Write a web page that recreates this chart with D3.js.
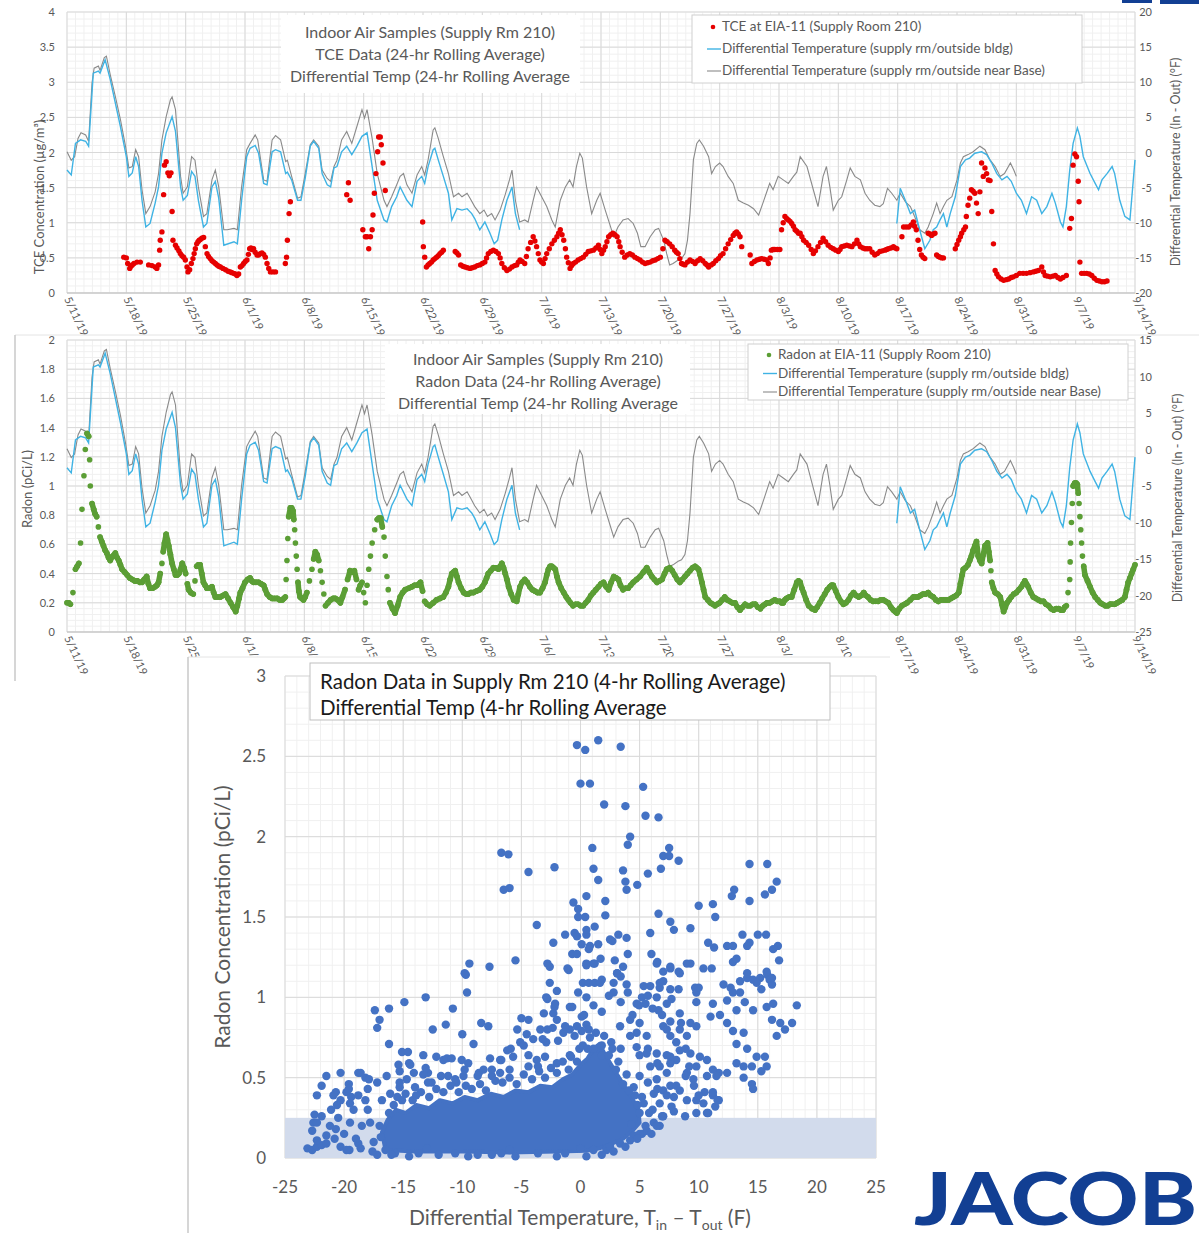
<!DOCTYPE html>
<html>
<head>
<meta charset="utf-8">
<script src="https://cdn.jsdelivr.net/npm/d3@7"></script>
<style>
  body { margin: 0; background: #fff; }
  svg text { font-family: Lato, "Open Sans", sans-serif; }
</style>
</head>
<body>
<svg id="chart" width="1199" height="1233"></svg>
<script>
// ---------- data ----------
// week labels, one every 7 days starting 5/11/19 (day 0)
var weekLabels = ["5/11/19","5/18/19","5/25/19","6/1/19","6/8/19","6/15/19","6/22/19","6/29/19","7/6/19",
  "7/13/19","7/20/19","7/27/19","8/3/19","8/10/19","8/17/19","8/24/19","8/31/19","9/7/19","9/14/19"];

var topLeftTicks = [0, 0.5, 1, 1.5, 2, 2.5, 3, 3.5, 4];
var topRightTicks = [-20, -15, -10, -5, 0, 5, 10, 15, 20];
var midLeftTicks = [0, 0.2, 0.4, 0.6, 0.8, 1, 1.2, 1.4, 1.6, 1.8, 2];
var midRightTicks = [-25, -20, -15, -10, -5, 0, 5, 10, 15];

// differential temperature, supply rm / outside near Base  [day, degF]
var tempBase = [[0,0.1],[0.5,-1.1],[0.9,-0.6],[1.3,2.0],[1.65,2.8],[2.2,2.5],[2.55,1.6],[2.95,9.9],[3.2,12.0],[3.7,12.3],
  [3.9,11.7],[4.4,13.5],[4.65,13.7],[5.1,11.1],[5.7,8.0],[6.3,4.7],[6.9,0.9],[7.3,-2.2],[7.7,-2.0],[8.1,0.4],[8.45,-0.6],
  [8.85,-5.3],[9.3,-8.7],[9.8,-7.7],[10.4,-5.6],[10.8,-3.0],[11.2,1.8],[11.7,5.1],[12.2,7.5],[12.4,7.9],[12.8,6.1],
  [13.4,-3.4],[13.7,-5.8],[14.2,-4.9],[14.7,-0.6],[15.1,-1.1],[15.5,-4.9],[16.1,-9.1],[16.5,-8.7],[17.1,-3.9],[17.5,-2.5],
  [17.9,-4.9],[18.5,-11.0],[18.9,-11.0],[19.7,-10.8],[20.1,-11.0],[20.6,-4.9],[21.2,0.4],[21.6,1.3],[22.2,2.5],[22.5,1.8],
  [23.2,-3.9],[23.6,-4.1],[24.2,1.8],[24.6,2.4],[25.2,1.8],[25.8,-1.3],[26.0,-1.1],[26.5,-3.4],[27.2,-6.5],[27.6,-6.3],
  [28.1,-3.0],[28.7,1.1],[29.1,1.8],[29.7,0.9],[30.1,-2.5],[30.7,-3.7],[31.1,-4.1],[31.5,-2.0],[31.85,-1.1],[32.4,1.8],
  [33.0,3.0],[33.6,1.3],[34.2,3.7],[34.8,6.1],[35.1,4.9],[35.4,6.1],[36.0,2.0],[36.6,-3.0],[37.4,-6.8],[37.75,-7.7],
  [38.3,-6.3],[38.9,-4.6],[39.3,-3.4],[39.7,-3.0],[40.1,-4.6],[40.7,-5.8],[41.3,-3.2],[41.85,-2.0],[42.2,-3.2],[42.6,-1.05],
  [43.2,3.2],[43.4,3.5],[43.8,2.0],[44.4,-0.6],[45.0,-3.0],[45.6,-6.3],[46.2,-5.8],[46.6,-6.3],[47.2,-5.8],[47.55,-6.5],
  [48.1,-7.7],[48.7,-8.7],[49.2,-8.2],[49.6,-9.1],[50.1,-8.7],[50.5,-9.6],[51.1,-8.2],[51.7,-6.0],[52.2,-3.9],[52.5,-2.5],
  [52.9,-6.8],[53.4,-9.9],[54.0,-9.6],[54.4,-9.9],[55.0,-6.8],[55.4,-4.9],[56.0,-6.3],[56.6,-7.7],[57.2,-9.6],[57.6,-10.6],
  [58.2,-6.8],[58.8,-4.9],[59.3,-3.9],[59.7,-4.9],[60.1,-2.0],[60.5,-0.1],[60.8,-0.8],[61.3,-4.9],[61.9,-8.7],[62.5,-6.8],
  [62.9,-5.8],[63.5,-8.2],[64.0,-10.1],[64.5,-12.0],[65.0,-10.6],[65.6,-9.6],[66.2,-9.4],[66.8,-10.1],[67.3,-11.5],
  [67.7,-13.4],[68.2,-13.4],[68.8,-12.0],[69.4,-11.0],[69.8,-10.8],[70.4,-12.5],[70.75,-14.4],[71.1,-16.0],[71.5,-15.8],
  [72.1,-15.3],[72.5,-15.1],[72.9,-14.4],[73.2,-12.5],[73.5,-8.7],[73.9,-1.05],[74.3,1.3],[74.6,1.8],[75.1,0.9],[75.7,-0.6],
  [76.05,-3.0],[76.5,-2.0],[77.0,-1.5],[77.4,-2.0],[78.0,-3.4],[78.6,-4.4],[79.2,-6.8],[79.8,-7.2],[80.4,-7.5],[81.0,-8.0],
  [81.6,-8.9],[82.1,-7.2],[82.5,-5.8],[82.9,-4.4],[83.3,-5.3],[83.9,-3.4],[84.5,-3.9],[85.1,-4.4],[85.7,-3.4],[86.1,-2.8],
  [86.5,-0.6],[87.3,-2.0],[88.05,-5.3],[88.6,-7.7],[89.2,-3.4],[89.6,-2.0],[90.0,-4.9],[90.4,-8.2],[91.0,-6.8],[91.4,-6.3],
  [92.0,-3.9],[92.4,-2.2],[92.95,-3.4],[93.6,-3.9],[94.15,-5.8],[94.7,-6.8],[95.3,-7.5],[95.9,-7.7],[96.3,-7.3],[96.8,-5.1],
  [97.3,-5.8],[97.9,-6.8],[98.3,-5.8],[98.9,-7.0],[99.5,-7.7],[100.0,-9.1],[100.6,-11.0],[101.2,-11.5],[101.6,-10.6],
  [102.2,-8.7],[102.6,-7.2],[103.0,-8.7],[103.4,-7.7],[103.8,-6.8],[104.4,-6.3],[105.0,-3.9],[105.4,-1.5],[105.75,-0.6],
  [106.3,-0.3],[106.9,0.1],[107.7,0.9],[108.3,0.4],[108.9,-1.05],[109.5,-2.0],[110.1,-3.4],[110.6,-3.0],[111.3,-1.5],
  [111.7,-2.5],[112.0,-3.4]];

// differential temperature, supply rm / outside bldg (two stretches)  [day, degF]
var tempBldgA = [[0,-2.5],[0.5,-3.2],[1.0,1.3],[1.6,1.8],[2.2,1.6],[2.55,0.9],[3.1,11.3],[3.7,11.6],[3.9,11.3],[4.5,13.2],
  [5.1,10.4],[6.3,3.7],[7.0,-0.6],[7.3,-3.4],[7.7,-2.9],[8.1,-0.6],[8.45,-2.0],[8.85,-6.8],[9.3,-10.6],[9.8,-10.1],
  [10.4,-7.2],[10.8,-4.9],[11.2,-0.1],[11.7,2.8],[12.4,5.1],[12.8,3.0],[13.4,-4.9],[13.7,-6.8],[14.2,-6.1],[14.7,-2.7],
  [15.1,-3.4],[15.5,-6.8],[16.1,-10.6],[16.5,-10.1],[17.1,-4.9],[17.5,-4.1],[17.9,-6.5],[18.5,-13.2],[19.7,-12.7],
  [20.1,-13.0],[20.6,-6.8],[21.2,-0.6],[21.6,0.6],[22.2,1.0],[22.6,-0.1],[23.2,-4.4],[23.6,-4.6],[24.2,0.1],[24.6,0.4],
  [25.2,0.1],[25.8,-3.0],[26.0,-2.8],[26.5,-3.9],[27.2,-6.8],[27.6,-6.8],[28.1,-3.7],[28.7,0.9],[29.1,1.6],[29.7,0.6],
  [30.1,-3.0],[30.7,-4.6],[31.1,-4.9],[31.5,-2.2],[31.85,-2.0],[32.4,0.1],[33.0,0.9],[33.6,-0.3],[34.2,0.9],[34.8,2.3],
  [35.4,2.8],[36.0,-2.0],[36.6,-6.8],[37.4,-9.6],[37.75,-9.9],[38.3,-7.7],[38.9,-6.3],[39.3,-4.9],[40.1,-6.8],[40.7,-7.7],
  [41.3,-4.1],[41.85,-3.4],[42.2,-4.4],[42.6,-2.0],[43.2,0.4],[43.4,0.6],[43.8,-1.05],[44.4,-3.4],[45.0,-5.8],[45.4,-9.6],
  [46.0,-8.0],[46.6,-8.2],[47.2,-8.0],[47.75,-8.7],[48.1,-9.4],[48.7,-11.0],[49.3,-9.9],[49.9,-11.5],[50.4,-13.0],
  [50.8,-12.5],[51.3,-9.6],[51.9,-6.8],[52.5,-4.9],[52.9,-8.7],[53.4,-11.0]];
var tempBldgB = [[97.9,-10.1],[98.3,-5.1],[98.9,-6.8],[99.5,-8.7],[100.0,-8.2],[100.6,-11.0],[101.2,-13.7],[101.8,-12.5],
  [102.2,-11.0],[102.6,-10.6],[103.0,-9.6],[103.4,-8.7],[103.8,-10.6],[104.2,-8.7],[104.8,-6.3],[105.4,-2.0],[106.0,-1.05],
  [106.5,-0.8],[107.1,-0.1],[107.9,0.1],[108.5,-0.3],[109.1,-1.5],[109.7,-3.0],[110.3,-3.9],[110.9,-3.4],[111.4,-4.1],
  [112.0,-5.8],[112.6,-6.8],[113.2,-8.7],[113.8,-6.3],[114.4,-6.8],[115.0,-8.7],[115.6,-7.7],[116.2,-5.8],[116.6,-7.2],
  [117.2,-9.9],[117.5,-10.6],[117.9,-7.7],[118.3,-2.5],[118.7,1.3],[119.2,3.5],[119.5,2.3],[119.9,-0.6],[120.7,-3.0],
  [121.3,-4.4],[121.7,-5.3],[122.1,-3.9],[122.7,-3.0],[123.3,-2.0],[123.6,-3.0],[124.2,-6.8],[124.8,-9.1],[125.4,-9.6],
  [126.0,-1.05]];

// TCE at EIA-11, ug/m3  [day, value]
var tcePts = [[6.7,0.51],[7.0,0.50],[7.16,0.42],[7.4,0.35],[7.55,0.38],[7.7,0.40],[7.9,0.42],[8.26,0.44],[8.65,0.44],
  [9.63,0.40],[10.03,0.39],[10.4,0.37],[10.6,0.35],[10.8,0.40],[10.93,0.61],[11.0,0.75],[11.2,0.87],[11.4,1.40],[11.5,1.82],
  [11.7,1.87],[11.9,1.71],[12.07,1.67],[12.27,1.71],[12.4,1.16],[12.5,0.75],[12.8,0.68],[12.98,0.64],[13.2,0.60],[13.37,0.56],
  [13.56,0.53],[13.76,0.51],[13.96,0.47],[14.16,0.37],[14.27,0.30],[14.47,0.33],[14.67,0.42],[14.86,0.49],[15.0,0.56],
  [15.14,0.63],[15.3,0.70],[15.45,0.73],[15.6,0.75],[15.73,0.76],[15.9,0.78],[16.12,0.79],[16.32,0.66],[16.52,0.56],
  [16.7,0.52],[16.9,0.49],[17.1,0.46],[17.3,0.44],[17.5,0.42],[17.7,0.40],[17.9,0.38],[18.1,0.37],[18.4,0.35],[18.7,0.33],
  [19.0,0.31],[19.27,0.30],[19.45,0.29],[19.66,0.28],[19.85,0.27],[20.05,0.25],[20.25,0.27],[20.45,0.37],[20.65,0.39],
  [20.84,0.42],[21.03,0.45],[21.23,0.47],[21.4,0.55],[21.55,0.63],[21.7,0.64],[21.82,0.62],[22.02,0.63],[22.2,0.58],
  [22.41,0.54],[22.6,0.54],[22.8,0.56],[23.0,0.57],[23.2,0.55],[23.4,0.51],[23.6,0.42],[23.8,0.35],[24.0,0.30],[24.3,0.30],
  [24.6,0.30],[25.76,0.42],[25.9,0.51],[26.0,0.75],[26.2,1.13],[26.35,1.30],[33.0,1.40],[33.2,1.57],[33.4,1.32],
  [34.9,0.90],[35.2,0.80],[35.4,0.80],[35.6,0.63],[35.8,0.80],[36.0,0.90],[36.1,1.11],[36.26,1.42],[36.45,1.70],[36.65,2.01],
  [36.77,2.22],[36.96,2.22],[37.08,2.11],[37.28,1.85],[37.55,1.46],[41.96,1.01],[42.04,0.66],[42.2,0.51],[42.4,0.37],
  [42.6,0.40],[42.8,0.42],[43.0,0.44],[43.2,0.47],[43.4,0.49],[43.6,0.51],[43.8,0.53],[44.0,0.56],[44.2,0.58],[44.4,0.61],
  [45.8,0.59],[46.0,0.57],[46.2,0.54],[46.45,0.40],[46.7,0.38],[46.96,0.37],[47.25,0.36],[47.55,0.35],[47.8,0.36],[48.1,0.37],
  [48.4,0.39],[48.7,0.40],[49.0,0.42],[49.3,0.44],[49.5,0.50],[49.7,0.56],[50.0,0.59],[50.3,0.61],[50.6,0.59],[50.9,0.56],
  [51.1,0.50],[51.3,0.42],[51.6,0.36],[51.9,0.32],[52.2,0.34],[52.5,0.37],[52.8,0.39],[53.05,0.40],[53.25,0.44],[53.45,0.47],
  [53.7,0.45],[54.0,0.42],[54.2,0.52],[54.4,0.63],[54.7,0.72],[55.0,0.80],[55.2,0.74],[55.4,0.66],[55.6,0.56],[55.8,0.47],
  [56.0,0.44],[56.2,0.42],[56.4,0.49],[56.6,0.56],[56.9,0.63],[57.2,0.70],[57.5,0.75],[57.8,0.80],[58.0,0.85],[58.2,0.90],
  [58.4,0.83],[58.6,0.75],[58.8,0.63],[58.95,0.51],[59.15,0.43],[59.35,0.35],[59.55,0.39],[59.74,0.42],[60.0,0.44],
  [60.3,0.47],[60.6,0.49],[60.9,0.51],[61.2,0.55],[61.5,0.59],[61.8,0.60],[62.1,0.61],[62.4,0.64],[62.7,0.68],[62.9,0.62],
  [63.1,0.56],[63.3,0.61],[63.5,0.66],[63.7,0.73],[63.9,0.80],[64.15,0.83],[64.4,0.85],[64.65,0.83],[64.9,0.80],[65.1,0.73],
  [65.25,0.66],[65.5,0.58],[65.8,0.51],[66.1,0.54],[66.4,0.56],[66.7,0.54],[67.0,0.51],[67.3,0.49],[67.6,0.47],[67.9,0.44],
  [68.2,0.42],[68.5,0.43],[68.8,0.44],[69.1,0.46],[69.4,0.47],[69.7,0.49],[70.0,0.51],[70.3,0.63],[70.55,0.75],[70.8,0.73],
  [71.1,0.70],[71.4,0.66],[71.7,0.61],[71.9,0.58],[72.1,0.56],[72.3,0.49],[72.5,0.42],[72.7,0.41],[72.9,0.40],[73.2,0.44],
  [73.5,0.47],[73.8,0.45],[74.1,0.42],[74.4,0.46],[74.7,0.49],[75.0,0.46],[75.3,0.42],[75.5,0.40],[75.7,0.37],[76.0,0.40],
  [76.25,0.42],[76.55,0.46],[76.85,0.49],[77.1,0.53],[77.4,0.56],[77.7,0.63],[78.0,0.70],[78.3,0.76],[78.6,0.82],[78.8,0.85],
  [79.0,0.87],[79.2,0.84],[79.4,0.80],[79.6,0.66],[80.6,0.54],[80.8,0.42],[81.1,0.45],[81.4,0.47],[81.7,0.48],[81.95,0.49],
  [82.25,0.48],[82.55,0.47],[82.75,0.42],[82.95,0.50],[83.1,0.61],[83.3,0.62],[83.5,0.62],[83.8,0.62],[84.1,0.62],[84.3,0.90],
  [84.5,1.00],[84.7,1.09],[84.9,1.06],[85.1,1.04],[85.3,1.02],[85.5,0.99],[85.7,0.95],[85.9,0.90],[86.1,0.88],[86.3,0.85],
  [86.5,0.85],[86.7,0.80],[86.9,0.75],[87.2,0.72],[87.5,0.68],[87.8,0.62],[88.05,0.56],[88.3,0.60],[88.6,0.66],[88.9,0.72],
  [89.2,0.78],[89.5,0.73],[89.8,0.68],[90.1,0.65],[90.4,0.63],[90.7,0.61],[91.0,0.59],[91.2,0.62],[91.4,0.66],[91.7,0.67],
  [92.0,0.68],[92.3,0.67],[92.6,0.66],[92.9,0.70],[93.2,0.75],[93.4,0.70],[93.6,0.66],[93.9,0.64],[94.15,0.63],[94.4,0.63],
  [94.7,0.63],[95.0,0.58],[95.3,0.54],[95.6,0.56],[95.9,0.59],[96.2,0.60],[96.5,0.61],[96.7,0.62],[96.9,0.63],[97.2,0.64],
  [97.5,0.66],[97.7,0.64],[97.9,0.63],[98.5,0.80],[98.7,0.94],[99.0,0.94],[99.3,0.94],[99.6,0.97],[99.85,1.01],[100.0,0.95],
  [100.2,0.90],[100.4,0.75],[100.6,0.62],[100.8,0.54],[101.0,0.51],[101.2,0.49],[101.6,0.85],[101.8,0.84],[102.0,0.82],
  [102.2,0.84],[102.4,0.85],[102.6,0.54],[102.8,0.52],[103.0,0.51],[103.2,0.50],[103.4,0.50],[104.8,0.63],[105.0,0.69],
  [105.2,0.75],[105.4,0.80],[105.55,0.85],[105.8,0.90],[106.0,0.94],[106.1,1.09],[106.3,1.25],[106.5,1.35],[106.7,1.47],
  [106.9,1.45],[107.1,1.42],[107.3,1.28],[107.5,1.13],[107.7,1.44],[107.9,1.85],[108.1,1.66],[108.3,1.78],[108.5,1.70],
  [108.7,1.61],[108.9,1.60],[109.1,1.16],[109.3,0.70],[109.5,0.32],[109.7,0.27],[109.9,0.23],[110.2,0.20],[110.5,0.18],
  [110.8,0.19],[111.1,0.20],[111.4,0.22],[111.65,0.23],[112.0,0.25],[112.4,0.28],[112.8,0.28],[113.2,0.28],[113.6,0.29],
  [114.0,0.30],[114.3,0.31],[114.6,0.32],[115.0,0.37],[115.2,0.30],[115.4,0.25],[115.7,0.24],[116.0,0.23],[116.3,0.24],
  [116.6,0.25],[116.9,0.22],[117.2,0.20],[117.5,0.22],[117.9,0.25],[118.3,0.92],[118.5,1.06],[118.7,1.82],[118.9,1.98],
  [119.1,1.94],[119.3,1.59],[119.4,1.30],[119.5,0.44],[119.7,0.28],[120.0,0.28],[120.3,0.28],[120.6,0.27],[120.9,0.25],
  [121.2,0.21],[121.5,0.18],[121.8,0.17],[122.1,0.16],[122.4,0.16],[122.7,0.17]];

// Radon at EIA-11, pCi/L  [day, value]
var radonPts = [[0,0.20],[0.2,0.20],[0.4,0.19],[0.7,0.27],[1.0,0.43],[1.2,0.45],[1.4,0.47],[1.6,0.61],[1.77,0.84],[2.0,1.07],
  [2.16,1.25],[2.36,1.36],[2.56,1.34],[2.67,1.18],[2.75,1.00],[2.95,0.88],[3.15,0.84],[3.3,0.81],[3.5,0.79],[3.7,0.72],
  [3.9,0.65],[4.1,0.62],[4.3,0.59],[4.5,0.56],[4.7,0.54],[4.9,0.51],[5.1,0.49],[5.4,0.52],[5.7,0.54],[5.9,0.51],[6.1,0.49],
  [6.3,0.46],[6.5,0.43],[6.8,0.41],[7.1,0.39],[7.4,0.37],[7.7,0.36],[8.0,0.35],[8.3,0.35],[8.6,0.34],[8.85,0.34],[9.1,0.36],
  [9.4,0.38],[9.6,0.33],[9.8,0.30],[10.1,0.30],[10.4,0.31],[10.6,0.32],[10.8,0.34],[11.0,0.40],[11.2,0.47],[11.35,0.55],
  [11.5,0.61],[11.7,0.67],[11.85,0.63],[12.0,0.59],[12.2,0.53],[12.4,0.47],[12.6,0.43],[12.8,0.39],[13.0,0.39],[13.2,0.40],
  [13.4,0.43],[13.6,0.47],[13.8,0.44],[14.0,0.40],[14.2,0.33],[14.35,0.29],[14.6,0.27],[14.9,0.26],[15.1,0.35],[15.3,0.45],
  [15.5,0.46],[15.7,0.46],[15.9,0.40],[16.1,0.34],[16.3,0.32],[16.5,0.30],[16.8,0.30],[17.1,0.31],[17.3,0.27],[17.5,0.24],
  [17.8,0.24],[18.1,0.24],[18.4,0.25],[18.7,0.26],[19.0,0.23],[19.3,0.20],[19.6,0.17],[19.9,0.14],[20.1,0.18],[20.3,0.23],
  [20.45,0.27],[20.7,0.30],[21.0,0.34],[21.3,0.36],[21.6,0.37],[21.8,0.35],[22.0,0.34],[22.3,0.34],[22.6,0.34],[22.9,0.33],
  [23.2,0.32],[23.4,0.29],[23.6,0.26],[23.9,0.24],[24.2,0.23],[24.5,0.23],[24.8,0.23],[25.1,0.22],[25.4,0.22],[25.6,0.23],
  [25.76,0.24],[25.85,0.36],[25.95,0.49],[26.05,0.64],[26.15,0.79],[26.35,0.85],[26.5,0.85],[26.66,0.83],[26.76,0.77],
  [26.86,0.70],[26.95,0.61],[27.05,0.52],[27.15,0.43],[27.25,0.34],[27.35,0.28],[27.5,0.24],[27.7,0.23],[27.9,0.22],
  [28.1,0.24],[28.3,0.27],[28.6,0.35],[28.9,0.43],[29.1,0.50],[29.3,0.55],[29.5,0.53],[29.7,0.49],[29.9,0.42],[30.1,0.34],
  [30.3,0.26],[30.5,0.18],[30.8,0.20],[31.1,0.22],[31.4,0.23],[31.65,0.23],[31.95,0.22],[32.25,0.20],[32.5,0.24],[32.8,0.29],
  [33.1,0.36],[33.4,0.42],[33.65,0.41],[33.9,0.42],[34.15,0.36],[34.4,0.29],[34.6,0.32],[34.8,0.34],[35.0,0.27],[35.2,0.20],
  [35.4,0.32],[35.6,0.43],[35.8,0.52],[36.0,0.61],[36.3,0.70],[36.6,0.77],[36.8,0.78],[37.0,0.78],[37.2,0.72],[37.4,0.65],
  [37.55,0.52],[37.75,0.38],[37.9,0.29],[38.1,0.20],[38.4,0.16],[38.7,0.13],[39.0,0.18],[39.3,0.24],[39.6,0.27],[39.9,0.29],
  [40.3,0.30],[40.7,0.31],[41.0,0.32],[41.3,0.32],[41.7,0.34],[41.95,0.28],[42.2,0.21],[42.5,0.19],[42.8,0.18],[43.2,0.20],
  [43.6,0.22],[44.0,0.23],[44.4,0.24],[44.7,0.27],[45.0,0.31],[45.2,0.36],[45.4,0.40],[45.6,0.41],[45.8,0.42],[46.0,0.38],
  [46.2,0.34],[46.5,0.30],[46.8,0.27],[47.1,0.26],[47.35,0.26],[47.65,0.27],[47.95,0.27],[48.3,0.28],[48.7,0.29],[49.0,0.31],
  [49.3,0.34],[49.5,0.37],[49.7,0.40],[50.0,0.42],[50.3,0.44],[50.6,0.44],[50.9,0.43],[51.1,0.45],[51.3,0.47],[51.5,0.44],
  [51.7,0.40],[51.9,0.36],[52.1,0.31],[52.4,0.26],[52.7,0.22],[53.05,0.21],[53.25,0.26],[53.45,0.31],[53.7,0.34],[54.0,0.36],
  [54.3,0.34],[54.6,0.31],[54.9,0.29],[55.2,0.28],[55.5,0.27],[55.8,0.27],[56.1,0.30],[56.4,0.34],[56.6,0.39],[56.8,0.43],
  [57.0,0.45],[57.2,0.45],[57.4,0.44],[57.6,0.43],[57.8,0.38],[58.0,0.34],[58.3,0.30],[58.6,0.27],[58.9,0.24],[59.15,0.22],
  [59.4,0.20],[59.7,0.18],[60.0,0.19],[60.3,0.19],[60.6,0.18],[60.9,0.18],[61.2,0.20],[61.5,0.22],[61.8,0.25],[62.1,0.27],
  [62.4,0.29],[62.7,0.31],[63.0,0.33],[63.3,0.34],[63.6,0.31],[63.9,0.29],[64.2,0.34],[64.5,0.38],[64.8,0.37],[65.05,0.36],
  [65.3,0.32],[65.6,0.29],[65.9,0.30],[66.2,0.30],[66.5,0.32],[66.8,0.34],[67.2,0.36],[67.6,0.38],[68.0,0.41],[68.4,0.44],
  [68.7,0.41],[69.0,0.38],[69.3,0.36],[69.6,0.34],[69.9,0.35],[70.2,0.36],[70.5,0.40],[70.75,0.43],[71.1,0.44],[71.4,0.42],
  [71.7,0.39],[72.0,0.36],[72.3,0.34],[72.6,0.36],[72.9,0.38],[73.2,0.40],[73.5,0.42],[73.8,0.44],[74.1,0.45],[74.3,0.44],
  [74.5,0.43],[74.7,0.39],[74.9,0.34],[75.1,0.29],[75.3,0.24],[75.6,0.22],[75.9,0.20],[76.2,0.19],[76.45,0.18],[76.7,0.19],
  [77.0,0.20],[77.3,0.22],[77.6,0.24],[77.9,0.22],[78.2,0.21],[78.5,0.20],[78.8,0.20],[79.1,0.17],[79.4,0.15],[79.7,0.17],
  [80.0,0.19],[80.3,0.18],[80.6,0.18],[80.9,0.19],[81.2,0.19],[81.5,0.17],[81.8,0.16],[82.1,0.18],[82.35,0.19],[82.6,0.20],
  [82.9,0.20],[83.2,0.21],[83.5,0.22],[83.8,0.21],[84.1,0.21],[84.3,0.20],[84.5,0.20],[84.7,0.22],[84.9,0.23],[85.2,0.24],
  [85.5,0.24],[85.8,0.29],[86.1,0.34],[86.3,0.35],[86.5,0.34],[86.7,0.30],[86.9,0.27],[87.2,0.22],[87.5,0.18],[87.9,0.16],
  [88.25,0.15],[88.5,0.17],[88.8,0.20],[89.1,0.23],[89.4,0.26],[89.7,0.29],[90.0,0.31],[90.2,0.32],[90.4,0.32],[90.7,0.28],
  [91.0,0.24],[91.3,0.21],[91.6,0.19],[91.9,0.20],[92.2,0.22],[92.5,0.25],[92.8,0.27],[93.1,0.25],[93.4,0.24],[93.7,0.25],
  [94.0,0.27],[94.25,0.25],[94.5,0.24],[94.8,0.22],[95.1,0.21],[95.4,0.21],[95.7,0.21],[96.0,0.22],[96.3,0.22],[96.6,0.21],
  [96.9,0.20],[97.2,0.17],[97.5,0.15],[97.7,0.14],[97.9,0.13],[98.2,0.16],[98.5,0.18],[98.8,0.19],[99.1,0.20],[99.5,0.22],
  [99.85,0.24],[100.1,0.24],[100.4,0.24],[100.7,0.25],[101.0,0.26],[101.3,0.26],[101.6,0.27],[101.9,0.25],[102.2,0.24],
  [102.5,0.22],[102.8,0.21],[103.1,0.22],[103.4,0.22],[103.7,0.22],[104.0,0.22],[104.3,0.23],[104.6,0.24],[104.9,0.25],
  [105.2,0.27],[105.4,0.33],[105.6,0.39],[105.75,0.43],[106.0,0.44],[106.3,0.46],[106.5,0.49],[106.7,0.52],[106.9,0.56],
  [107.1,0.59],[107.3,0.62],[107.4,0.57],[107.5,0.52],[107.7,0.49],[107.9,0.47],[108.1,0.53],[108.3,0.59],[108.6,0.61],
  [108.75,0.55],[108.9,0.49],[109.0,0.42],[109.1,0.34],[109.3,0.30],[109.5,0.27],[109.8,0.26],[110.1,0.24],[110.3,0.19],
  [110.5,0.14],[110.7,0.17],[110.9,0.20],[111.15,0.22],[111.4,0.24],[111.7,0.26],[112.0,0.27],[112.3,0.29],[112.6,0.31],
  [112.8,0.33],[113.0,0.35],[113.2,0.33],[113.4,0.31],[113.7,0.27],[114.0,0.24],[114.3,0.23],[114.6,0.22],[114.9,0.21],
  [115.2,0.21],[115.5,0.19],[115.8,0.18],[116.1,0.16],[116.4,0.15],[116.7,0.16],[117.0,0.16],[117.25,0.15],[117.5,0.15],
  [117.7,0.17],[117.9,0.18],[118.1,0.27],[118.3,0.36],[118.35,0.48],[118.4,0.61],[118.5,0.75],[118.6,0.88],[118.7,1.00],
  [118.8,1.01],[118.9,1.02],[119.05,1.02],[119.2,1.01],[119.3,0.95],[119.4,0.88],[119.5,0.79],[119.6,0.70],[119.7,0.61],
  [119.8,0.52],[119.95,0.45],[120.1,0.39],[120.4,0.35],[120.7,0.31],[121.0,0.27],[121.3,0.24],[121.6,0.22],[121.9,0.20],
  [122.2,0.19],[122.5,0.18],[122.8,0.18],[123.05,0.19],[123.3,0.19],[123.6,0.19],[123.9,0.20],[124.2,0.21],[124.5,0.22],
  [124.8,0.24],[125.0,0.29],[125.2,0.34],[125.4,0.37],[125.6,0.40],[125.8,0.43],[126.0,0.46]];

// scatter: 4-hr radon vs differential temperature  [degF, pCi/L]
var scatterPts = [[-0.3,2.57],[0.4,2.54],[1.5,2.60],[3.4,2.56],[0.0,2.33],[0.8,2.33],[2.0,2.20],[3.8,2.19],[5.3,2.31],
  [5.5,2.13],[6.6,2.12],[4.2,2.00],[4.0,1.95],[1.0,1.93],[-6.7,1.90],[-6.1,1.89],[-6.5,1.67],[-6.0,1.68],[-4.4,1.78],
  [-2.2,1.81],[1.1,1.80],[1.5,1.73],[0.5,1.63],[-0.6,1.59],[-0.2,1.55],[2.1,1.60],[3.6,1.79],[3.8,1.72],[3.9,1.67],[4.8,1.70],
  [5.7,1.77],[6.8,1.80],[7.0,1.88],[7.5,1.88],[7.5,1.93],[8.3,1.85],[6.6,1.52],[7.6,1.47],[7.9,1.42],[5.9,1.40],[-0.2,1.50],
  [0.4,1.50],[1.2,1.44],[2.1,1.51],[-3.7,1.45],[-1.3,1.39],[-2.3,1.34],[-0.5,1.40],[-0.3,1.38],[0.5,1.39],[0.5,1.42],
  [2.5,1.36],[2.7,1.35],[3.2,1.39],[3.9,1.37],[0.1,1.33],[0.8,1.32],[-0.7,1.27],[-0.3,1.27],[1.5,1.33],[4.0,1.27],[6.0,1.27],
  [14.3,1.83],[15.8,1.83],[16.6,1.72],[16.2,1.67],[15.6,1.64],[13.0,1.67],[12.8,1.63],[14.3,1.60],[10.0,1.57],[11.2,1.58],
  [11.4,1.50],[9.3,1.43],[13.7,1.39],[15.0,1.39],[15.7,1.39],[10.8,1.34],[11.3,1.31],[12.4,1.32],[12.9,1.32],[14.3,1.34],
  [14.1,1.32],[16.7,1.32],[16.3,1.30],[16.8,1.23],[10.4,1.18],[11.1,1.18],[12.9,1.22],[13.2,1.24],[13.5,1.10],[14.1,1.12],
  [14.6,1.11],[15.2,1.12],[15.8,1.14],[16.0,1.11],[16.2,1.08],[9.0,1.21],[8.3,1.16],[7.6,1.18],[7.0,1.16],[6.5,1.22],
  [2.9,1.23],[3.1,1.15],[3.4,1.13],[0.7,1.30],[-1.0,1.17],[0.5,1.21],[1.1,1.21],[1.7,1.24],[1.8,1.11],[1.2,1.09],[0.2,1.09],
  [5.2,1.00],[5.9,1.07],[6.7,1.06],[7.0,1.10],[7.6,1.05],[8.3,1.05],[9.7,1.06],[9.8,1.03],[12.1,1.08],[12.7,1.06],[12.9,1.03],
  [-23.1,0.06],[-22.7,0.05],[-22.3,0.07],[-21.9,0.08],[-21.5,0.09],[-22.5,0.27],[-22.6,0.22],[-22.3,0.39],[-21.9,0.45],
  [-21.5,0.51],[-20.7,0.41],[-20.3,0.53],[-19.6,0.46],[-19.8,0.41],[-20.9,0.39],[-20.6,0.33],[-19.5,0.34],[-18.8,0.53],
  [-18.2,0.50],[-17.4,0.92],[-17.2,0.81],[-17.0,0.86],[-16.2,0.71],[-16.2,0.93],[-14.9,0.97],[-15.1,0.66],[-15.3,0.54],
  [-14.5,0.59],[-13.1,1.00],[-13.3,0.64],[-12.5,0.80],[-12.9,0.53],[-11.4,0.83],[-10.8,0.93],[-11.6,0.61],[-10.0,0.77],
  [-9.8,1.15],[-9.6,1.03],[-9.4,1.21],[-9.05,0.71],[-8.4,0.84],[-7.8,0.82],[-7.7,1.19],[-5.5,1.23],[-5.35,0.80],[-5.0,0.87],
  [-4.4,0.86],[-2.8,1.21],[-2.6,1.09],[-2.8,0.99],[-2.2,0.94],[-2.0,1.04],[-0.9,0.94],[-1.1,1.18],[-9.7,1.14],[-2.6,1.19],
  [-2.9,1.00],[-2.15,0.96],[-3.1,0.90],[-2.3,0.90],[-0.7,0.94],[-0.2,1.03],[0.5,1.00],[0.1,0.88],
  [-18.6,0.53],[-17.9,0.49],[-15.4,0.58],[-14.4,0.58],[-14.6,0.66],[-13.1,0.56],[-12.2,0.63],[-11.3,0.62],[-10.9,0.62],
  [-10.05,0.61],[-9.5,0.59],[-8.6,0.53],[-8.2,0.55],[-7.65,0.62],[-6.8,0.61],[-6.2,0.67],[-5.7,0.63],[-5.1,0.72],
  [-4.55,0.77],[-4.0,0.74],[-3.4,0.80],[-2.9,0.72],[-2.35,0.81],[-1.9,0.73],[-1.45,0.78],[-0.9,0.80],[-0.3,0.82],[0.1,0.79],
  [0.5,0.83],[-19.4,0.38],[-16.1,0.40],[-15.3,0.44],[-14.7,0.49],[-14.0,0.44],[-13.3,0.52],[-12.6,0.47],[-11.2,0.51],
  [-10.5,0.47],[-9.9,0.51],[-7.5,0.51],[-6.8,0.53],[-6.0,0.55],[-4.4,0.57],[-3.7,0.61],[-3.0,0.63],
  [0.5,1.20],[1.2,1.21],[3.1,1.15],[3.9,1.08],[2.8,1.03],[1.65,1.09],[0.7,1.09],[3.6,1.19],[6.45,1.21],[7.6,1.19],[8.4,1.15],
  [9.3,1.21],[14.1,1.15],[14.9,1.09],[15.75,1.16],[16.2,1.12],[15.3,1.05],[13.5,1.03],[12.4,0.98],[10.0,1.06],[9.8,0.97],
  [11.2,0.96],[13.2,0.92],[13.9,0.97],[14.6,0.92],[15.75,0.94],[16.3,0.96],[18.3,0.95],[16.2,0.86],[16.9,0.84],[17.3,0.80],
  [17.9,0.84],[16.6,0.76],[11.0,0.88],[11.8,0.89],[12.4,0.84],[12.9,0.79],[13.8,0.78],[13.2,0.71],[14.1,0.68],[14.9,0.63],
  [15.6,0.63],[15.75,0.57],[15.3,0.54],[14.5,0.57],[13.8,0.57],[13.2,0.59],[12.4,0.53],[11.7,0.53],[11.2,0.55],[13.8,0.50],
  [14.5,0.46],[14.6,0.43],[8.4,0.80],[9.0,0.76],[7.6,0.76],[9.3,0.84],[8.4,0.90],[7.6,0.85],[7.0,0.82],[9.8,0.82],[7.3,0.96],
  [6.6,0.92],[6.45,1.00],[5.5,0.96],[4.75,0.96],[8.4,0.67],[9.3,0.65],[10.1,0.63],[10.7,0.61],[9.8,0.57],[9.0,0.53],
  [8.1,0.61],[7.6,0.59],[9.55,0.49],[10.7,0.51],[11.5,0.51],[7.6,0.45],[8.4,0.42],[7.9,0.38],[9.0,0.36],[9.8,0.36],
  [10.5,0.41],[11.2,0.39],[11.7,0.36],[11.4,0.32],[10.7,0.28],[9.8,0.28],[8.85,0.26],[7.9,0.29],[7.0,0.26],[6.7,0.20],
  [6.2,0.22],[5.6,0.17],[5.2,0.15],[4.5,0.14],[2.2,0.05],[6.7,0.34],[6.2,0.40],[7.0,0.42],[6.45,0.49],[7.3,0.53],[6.7,0.57],
  [5.9,0.57],[5.6,0.65],[6.45,0.65],[7.6,0.63],[5.6,0.76],[4.75,0.78],[4.75,0.69],[5.0,0.84],[4.2,0.86],[3.35,0.82],
  [-3.2,0.74],[-2.8,0.80],[-2.0,0.86],[-1.3,0.82],[-0.5,0.76],[0.3,0.89],[0.7,0.80],[1.1,0.95],[1.8,0.91],[2.4,1.01],
  [2.8,1.09],[3.4,0.97],[4.0,1.03],[4.4,0.89],[4.96,0.95],[5.35,1.07],[5.7,1.01],[6.1,0.93],[6.7,1.09],[6.9,0.89],[7.3,0.80],
  [7.7,0.99],[8.1,0.72],[8.5,0.84],[8.9,0.68],[9.2,0.57],[9.6,0.45],[10.0,0.39],[10.4,0.34],[10.8,0.28],[11.2,0.41],
  [11.6,0.36],[1.1,0.68],[1.8,0.64],[2.6,0.72],[3.4,0.68],[4.2,0.76],[5.0,0.64],[5.7,0.68],[6.5,0.59],[7.3,0.64],[5.0,0.51],
  [5.7,0.47],[6.5,0.43],[7.3,0.39],[8.1,0.45],[8.9,0.51],[4.6,0.39],[5.35,0.34],[6.1,0.30],[6.9,0.26],[7.7,0.32],
  [-4.8,0.70],[-4.4,0.64],[-5.9,0.68],[-6.7,0.61],[-3.6,0.57],[-2.0,0.59],[-0.9,0.64],[-0.1,0.68],[-7.5,0.55],[-8.7,0.51],
  [-9.8,0.55],[-10.6,0.49],[-11.8,0.51],[-12.9,0.47],[-14.1,0.53],[-15.3,0.47],[-16.4,0.51],[-17.2,0.47],[-18.0,0.43],
  [-18.8,0.39],[-19.6,0.43],[-20.3,0.36],[-21.1,0.30],[-21.9,0.26],[-22.3,0.22],[-22.7,0.17],[-22.3,0.11],[-21.5,0.14],
  [-20.7,0.18],[-20.3,0.07],[-19.55,0.05],[-18.8,0.09],[-17.2,0.02],[-15.7,0.03],[-13.7,0.03],[-10.6,0.03],[-8.7,0.02],
  [-6.7,0.03],[-3.6,0.03],[-1.3,0.03],[1.1,0.05],[2.2,0.06],[6.45,0.20],[6.0,0.15],[5.0,0.15],[4.2,0.11],[3.35,0.09],[2.5,0.07],
  // rim of the dense core
  [-20.5,0.25],[-20.0,0.15],[-19.5,0.22],[-19.0,0.12],[-18.5,0.20],[-18.0,0.30],[-17.5,0.10],[-17.0,0.20],[-16.8,0.36],
  [-18.2,0.36],[-19.2,0.30],[-20.8,0.12],[-21.2,0.20],[-19.8,0.05],[-18.6,0.06],[-17.6,0.04],[-16.5,0.05],[-16.2,0.28],
  [-15.5,0.38],[-14.8,0.40],[-13.5,0.41],[-12.2,0.43],[-11.0,0.45],[-9.7,0.45],[-8.5,0.46],[-7.2,0.48],[-6.0,0.50],
  [-4.8,0.52],[-3.5,0.54],[-2.5,0.56],[-1.5,0.60],[-0.8,0.63],[0.2,0.70],[0.8,0.75],[1.3,0.78],[2.0,0.76],[2.7,0.68],
  [3.2,0.60],[3.9,0.52],[4.5,0.44],[5.2,0.38],[5.8,0.28],[5.5,0.20],[4.8,0.12],[3.8,0.07],[2.8,0.04],[1.8,0.02],[0.5,0.01],
  [-2.0,0.01],[-5.5,0.01],[-7.5,0.02],[-9.5,0.01],[-12.0,0.02],[-14.5,0.01],[-16.0,0.02],[-16.9,0.13],[-17.8,0.22],
  [-15.8,0.33],[-14.2,0.36],[-12.8,0.38],[-10.3,0.41],[-8.0,0.42],[-5.4,0.46],[-3.0,0.50],[-1.0,0.55],[1.8,0.70],[3.6,0.46],
  [5.0,0.28],[4.3,0.21],[-13.0,0.06],[-6.0,0.05],[0.0,0.06],[-15.1,0.36],[-13.9,0.39],[-11.6,0.41],[-9.2,0.43],[-6.6,0.47],
  [-4.1,0.49],[-2.0,0.53],[-0.3,0.60],[0.6,0.68],[2.4,0.64],[3.0,0.55],[4.1,0.42],[4.8,0.33]];

// outline of the solid, fully overplotted core of the scatter  [degF, pCi/L]
var scatterCore = [[-16.5,0.05],[-16.8,0.16],[-16.3,0.24],[-15.6,0.30],[-14.8,0.28],[-13.9,0.33],[-12.8,0.31],
  [-11.9,0.36],[-10.8,0.34],[-9.8,0.38],[-8.7,0.36],[-7.6,0.40],[-6.5,0.38],[-5.5,0.42],[-4.4,0.41],[-3.4,0.45],
  [-2.4,0.44],[-1.5,0.49],[-0.7,0.52],[0,0.58],[0.6,0.62],[1.1,0.68],[1.6,0.71],[2.1,0.64],[2.6,0.58],[3.1,0.52],
  [3.7,0.45],[4.3,0.38],[4.9,0.30],[5.0,0.22],[4.4,0.17],[3.6,0.12],[2.7,0.09],[1.6,0.06],[0.5,0.045],[-2,0.04],
  [-6,0.035],[-10,0.04],[-14,0.04]];

var scatterXTicks = [-25, -20, -15, -10, -5, 0, 5, 10, 15, 20, 25];
var scatterYTicks = [0, 0.5, 1, 1.5, 2, 2.5, 3];
var bandTop = 0.25;

// ---------- drawing ----------
var svg = d3.select("#chart");
var gridMajor = "#d9d9d9", gridMinor = "#f0f0f0", labelGray = "#595959";
var blueLine = "#3fb3e4", grayLine = "#8a8a8a";

var xDay = d3.scaleLinear().domain([0, 126]).range([67, 1135]);

function drawSeriesPanel(cfg) {
  var g = svg.append("g");
  var yL = d3.scaleLinear().domain(cfg.leftDomain).range([cfg.bottom, cfg.top]);
  var yR = d3.scaleLinear().domain(cfg.rightDomain).range([cfg.bottom, cfg.top]);

  // minor grid
  g.append("g").selectAll("line").data(d3.range(0, 127)).enter().append("line")
    .attr("x1", function (d) { return xDay(d); }).attr("x2", function (d) { return xDay(d); })
    .attr("y1", cfg.top).attr("y2", cfg.bottom).attr("stroke", gridMinor);
  g.append("g").selectAll("line").data(cfg.minorY).enter().append("line")
    .attr("x1", xDay(0)).attr("x2", xDay(126))
    .attr("y1", function (d) { return yL(d); }).attr("y2", function (d) { return yL(d); })
    .attr("stroke", gridMinor);
  // major grid
  g.append("g").selectAll("line").data(weekLabels).enter().append("line")
    .attr("x1", function (d, i) { return xDay(i * 7); }).attr("x2", function (d, i) { return xDay(i * 7); })
    .attr("y1", cfg.top).attr("y2", cfg.bottom).attr("stroke", gridMajor);
  g.append("g").selectAll("line").data(cfg.leftTicks).enter().append("line")
    .attr("x1", xDay(0)).attr("x2", xDay(126))
    .attr("y1", function (d) { return yL(d); }).attr("y2", function (d) { return yL(d); })
    .attr("stroke", gridMajor);
  g.append("line").attr("x1", xDay(0)).attr("x2", xDay(126)).attr("y1", cfg.bottom).attr("y2", cfg.bottom)
    .attr("stroke", "#bfbfbf");

  // title box
  g.append("rect").attr("x", cfg.titleBox[0]).attr("y", cfg.titleBox[1])
    .attr("width", cfg.titleBox[2]).attr("height", cfg.titleBox[3]).attr("fill", "#fff");
  g.selectAll(".ttl").data(cfg.title).enter().append("text")
    .attr("x", cfg.titleX).attr("y", function (d, i) { return cfg.titleY + i * cfg.titleStep; })
    .attr("text-anchor", "middle").attr("font-size", 16).attr("fill", labelGray).text(function (d) { return d; });

  // temperature lines
  var line = d3.line().x(function (d) { return xDay(d[0]); }).y(function (d) { return yR(d[1]); });
  g.append("path").datum(tempBase).attr("d", line).attr("fill", "none").attr("stroke", grayLine).attr("stroke-width", 1.1);
  [tempBldgA, tempBldgB].forEach(function (s) {
    g.append("path").datum(s).attr("d", line).attr("fill", "none").attr("stroke", blueLine).attr("stroke-width", 1.4);
  });

  // measured dots: hourly markers overlap into a band where the series is flat
  var pairs = d3.pairs(cfg.dots).filter(function (p) {
    return Math.abs(yL(p[1][1]) - yL(p[0][1])) < cfg.joinPx && (p[1][0] - p[0][0]) < 0.45;
  });
  g.append("g").selectAll("line").data(pairs).enter().append("line")
    .attr("x1", function (p) { return xDay(p[0][0]); }).attr("y1", function (p) { return yL(p[0][1]); })
    .attr("x2", function (p) { return xDay(p[1][0]); }).attr("y2", function (p) { return yL(p[1][1]); })
    .attr("stroke", cfg.dotColor).attr("stroke-width", cfg.joinW).attr("stroke-linecap", "round");
  g.append("g").selectAll("circle").data(cfg.dots).enter().append("circle")
    .attr("cx", function (d) { return xDay(d[0]); }).attr("cy", function (d) { return yL(d[1]); })
    .attr("r", cfg.dotR).attr("fill", cfg.dotColor);

  // left axis labels
  g.selectAll(".lt").data(cfg.leftTicks).enter().append("text")
    .attr("x", 55).attr("y", function (d) { return yL(d) + 4; }).attr("text-anchor", "end")
    .attr("font-size", 11).attr("fill", labelGray).text(function (d) { return d; });
  // right axis labels
  g.selectAll(".rt").data(cfg.rightTicks).enter().append("text")
    .attr("x", 1152).attr("y", function (d) { return yR(d) + 4; }).attr("text-anchor", "end")
    .attr("font-size", 11).attr("fill", labelGray).text(function (d) { return d; });
  // date labels
  g.selectAll(".dl").data(weekLabels).enter().append("text")
    .attr("transform", function (d, i) { return "translate(" + (xDay(i * 7) - 3) + "," + (cfg.bottom + 6) + ") rotate(65)"; })
    .attr("font-size", 11).attr("fill", labelGray).text(function (d) { return d; });

  // axis titles
  g.append("text").attr("transform", "translate(" + cfg.leftTitleX + "," + cfg.leftTitleY + ") rotate(-90)")
    .attr("text-anchor", "middle").attr("font-size", cfg.leftTitleSize).attr("fill", labelGray).text(cfg.leftTitle);
  g.append("text").attr("transform", "translate(" + cfg.rightTitleX + "," + cfg.rightTitleY + ") rotate(-90)")
    .attr("text-anchor", "middle").attr("font-size", 12.5).attr("fill", labelGray)
    .text("Differential Temperature (In - Out) (°F)");

  // legend
  var lg = g.append("g").attr("transform", "translate(" + cfg.legend[0] + "," + cfg.legend[1] + ")");
  lg.append("rect").attr("width", cfg.legend[2]).attr("height", cfg.legend[3]).attr("fill", "#fff").attr("stroke", "#d0d0d0");
  var items = [cfg.dotLabel, "Differential Temperature (supply rm/outside bldg)", "Differential Temperature (supply rm/outside near Base)"];
  items.forEach(function (t, i) {
    var yy = cfg.legendRow0 + i * cfg.legendStep;
    if (i === 0) {
      lg.append("circle").attr("cx", 21).attr("cy", yy - 4).attr("r", 2.3).attr("fill", cfg.dotColor);
    } else {
      lg.append("line").attr("x1", 15).attr("x2", 29).attr("y1", yy - 4).attr("y2", yy - 4)
        .attr("stroke", i === 1 ? blueLine : grayLine).attr("stroke-width", i === 1 ? 1.4 : 1.1);
    }
    lg.append("text").attr("x", 30).attr("y", yy).attr("font-size", 13.5).attr("fill", labelGray).text(t);
  });
}

// top panel: TCE
drawSeriesPanel({
  top: 12, bottom: 293, leftDomain: [0, 4], rightDomain: [-20, 20],
  leftTicks: topLeftTicks, rightTicks: topRightTicks, minorY: d3.range(0, 4.001, 0.1),
  dots: tcePts, dotR: 2.7, dotColor: "#e60000", joinPx: 3, joinW: 3.5,
  titleBox: [281, 15, 299, 78], titleX: 430, titleY: 38, titleStep: 22,
  title: ["Indoor Air Samples (Supply Rm 210)", "TCE Data (24-hr Rolling Average)", "Differential Temp (24-hr Rolling Average"],
  leftTitle: "TCE Concentration (µg/m³)", leftTitleX: 44, leftTitleY: 197, leftTitleSize: 13,
  rightTitleX: 1180, rightTitleY: 162,
  legend: [692, 15, 390, 68], legendRow0: 16, legendStep: 22, dotLabel: "TCE at EIA-11 (Supply Room 210)"
});

// middle panel frame (covers the bottom of the top panel's labels)
svg.append("rect").attr("x", 15).attr("y", 335).attr("width", 1184).attr("height", 346).attr("fill", "#fff");
svg.append("line").attr("x1", 15).attr("x2", 1199).attr("y1", 335).attr("y2", 335).attr("stroke", "#e4e4e4");
svg.append("line").attr("x1", 15).attr("x2", 15).attr("y1", 335).attr("y2", 681).attr("stroke", "#c8c8c8").attr("stroke-width", 1.5);

// middle panel: Radon
drawSeriesPanel({
  top: 340, bottom: 632, leftDomain: [0, 2], rightDomain: [-25, 15],
  leftTicks: midLeftTicks, rightTicks: midRightTicks, minorY: d3.range(0, 2.001, 0.04),
  dots: radonPts, dotR: 2.8, dotColor: "#5b9e35", joinPx: 9, joinW: 5.5,
  titleBox: [385, 344, 305, 70], titleX: 538, titleY: 365, titleStep: 22,
  title: ["Indoor Air Samples (Supply Rm 210)", "Radon Data (24-hr Rolling Average)", "Differential Temp (24-hr Rolling Average"],
  leftTitle: "Radon (pCi/L)", leftTitleX: 32, leftTitleY: 489, leftTitleSize: 13,
  rightTitleX: 1182, rightTitleY: 498,
  legend: [748, 344, 380, 56], legendRow0: 15, legendStep: 18.5, dotLabel: "Radon at EIA-11 (Supply Room 210)"
});

// bottom panel frame
svg.append("rect").attr("x", 188).attr("y", 657).attr("width", 702).attr("height", 576).attr("fill", "#fff");
svg.append("line").attr("x1", 188).attr("x2", 890).attr("y1", 657).attr("y2", 657).attr("stroke", "#e4e4e4");
svg.append("line").attr("x1", 188).attr("x2", 188).attr("y1", 657).attr("y2", 1233).attr("stroke", "#c8c8c8").attr("stroke-width", 1.5);

// bottom panel: scatter
var gs = svg.append("g");
var xT = d3.scaleLinear().domain([-25, 25]).range([285, 876]);
var yC = d3.scaleLinear().domain([0, 3]).range([1158, 676]);

gs.append("g").selectAll("line").data(d3.range(-25, 26, 1)).enter().append("line")
  .attr("x1", function (d) { return xT(d); }).attr("x2", function (d) { return xT(d); })
  .attr("y1", yC(3)).attr("y2", yC(0)).attr("stroke", gridMinor);
gs.append("g").selectAll("line").data(d3.range(0, 3.001, 0.1)).enter().append("line")
  .attr("x1", xT(-25)).attr("x2", xT(25))
  .attr("y1", function (d) { return yC(d); }).attr("y2", function (d) { return yC(d); }).attr("stroke", gridMinor);
gs.append("g").selectAll("line").data(scatterXTicks).enter().append("line")
  .attr("x1", function (d) { return xT(d); }).attr("x2", function (d) { return xT(d); })
  .attr("y1", yC(3)).attr("y2", yC(0)).attr("stroke", gridMajor);
gs.append("g").selectAll("line").data(scatterYTicks).enter().append("line")
  .attr("x1", xT(-25)).attr("x2", xT(25))
  .attr("y1", function (d) { return yC(d); }).attr("y2", function (d) { return yC(d); }).attr("stroke", gridMajor);

gs.append("rect").attr("x", xT(-25)).attr("y", yC(bandTop)).attr("width", xT(25) - xT(-25))
  .attr("height", yC(0) - yC(bandTop)).attr("fill", "#d2dbec");

var ptColor = "#4472c4";
gs.append("path").datum(scatterCore)
  .attr("d", d3.line().x(function (d) { return xT(d[0]); }).y(function (d) { return yC(d[1]); }).curve(d3.curveLinearClosed))
  .attr("fill", ptColor).attr("stroke", ptColor).attr("stroke-width", 4).attr("stroke-linejoin", "round");
gs.append("g").selectAll("circle").data(scatterPts).enter().append("circle")
  .attr("cx", function (d) { return xT(d[0]); }).attr("cy", function (d) { return yC(d[1]); })
  .attr("r", 4.2).attr("fill", ptColor);

gs.selectAll(".xt").data(scatterXTicks).enter().append("text")
  .attr("x", function (d) { return xT(d); }).attr("y", 1193).attr("text-anchor", "middle")
  .attr("font-size", 17).attr("fill", labelGray).text(function (d) { return d; });
gs.selectAll(".yt").data(scatterYTicks).enter().append("text")
  .attr("x", 266).attr("y", function (d) { return yC(d) + 6; }).attr("text-anchor", "end")
  .attr("font-size", 17).attr("fill", labelGray).text(function (d) { return d; });

var xl = gs.append("text").attr("x", 580).attr("y", 1225).attr("text-anchor", "middle")
  .attr("font-size", 21).attr("fill", labelGray);
xl.append("tspan").text("Differential Temperature, T");
xl.append("tspan").attr("font-size", 14).attr("dy", 5).text("in");
xl.append("tspan").attr("dy", -5).text(" \u2013 T");
xl.append("tspan").attr("font-size", 14).attr("dy", 5).text("out");
xl.append("tspan").attr("dy", -5).text(" (F)");

gs.append("text").attr("transform", "translate(230,917) rotate(-90)").attr("text-anchor", "middle")
  .attr("font-size", 21).attr("fill", labelGray).text("Radon Concentration (pCi/L)");

gs.append("rect").attr("x", 310).attr("y", 663).attr("width", 520).attr("height", 57)
  .attr("fill", "#fff").attr("stroke", "#bfbfbf");
gs.append("text").attr("x", 320).attr("y", 689).attr("font-size", 20.5).attr("fill", "#1a1a1a")
  .text("Radon Data in Supply Rm 210 (4-hr Rolling Average)");
gs.append("text").attr("x", 320).attr("y", 715).attr("font-size", 20.5).attr("fill", "#1a1a1a")
  .text("Differential Temp (4-hr Rolling Average");

// logo (only the part visible on the slide)
svg.append("rect").attr("x", 1122).attr("y", 0).attr("width", 30).attr("height", 3).attr("fill", "#123f93");
svg.append("rect").attr("x", 1160).attr("y", 0).attr("width", 39).attr("height", 4).attr("fill", "#123f93");
svg.append("text").attr("x", 914).attr("y", 1225).attr("font-family", "'DejaVu Sans', sans-serif")
  .attr("font-size", 72).attr("font-weight", 900).attr("fill", "#123f93")
  .attr("textLength", 283).attr("lengthAdjust", "spacingAndGlyphs").text("JACOB");
</script>
</body>
</html>
